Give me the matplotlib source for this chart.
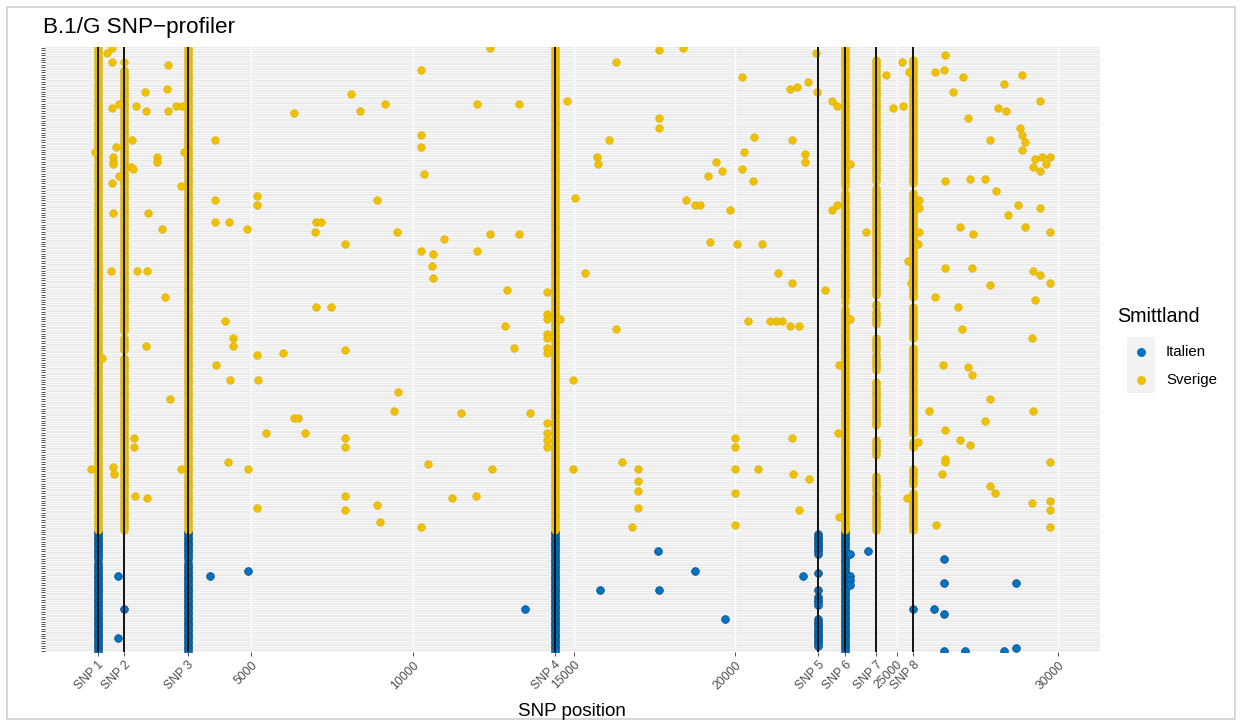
import matplotlib
matplotlib.use('Agg')
import matplotlib.pyplot as plt
from matplotlib.patches import Rectangle
from matplotlib.lines import Line2D

plt.rcParams['font.family'] = ['Liberation Sans', 'DejaVu Sans']

# ---------------- data ----------------
title = 'B.1/G SNP\u2212profiler'
x_title = 'SNP position'
legend_title = 'Smittland'
groups = ['Italien', 'Sverige']
group_colors = ['#0073C2', '#EFC000']

snp_labels = ['SNP 1', 'SNP 2', 'SNP 3', 'SNP 4', 'SNP 5', 'SNP 6', 'SNP 7', 'SNP 8']
snp_pos = [241, 1059, 3037, 14408, 22566, 23403, 24362, 25509]
num_breaks = [5000, 10000, 15000, 20000, 25000, 30000]

n_sverige = 200   # sample rows 0..199 (top)
n_italien = 50    # sample rows 200..249 (bottom)

# rows (first, last) where each SNP column is present, per group
sverige_runs = {
    0: [(0, 199)],
    1: [(6, 6), (9, 117), (120, 125), (128, 199)],
    2: [(0, 199)],
    3: [(0, 199)],
    5: [(0, 57), (60, 103), (105, 105), (108, 199)],
    6: [(5, 55), (58, 102), (106, 107), (109, 114), (120, 125), (127, 133), (138, 156),
        (162, 168), (177, 183), (185, 199)],
    7: [(5, 56), (60, 103), (107, 120), (124, 159), (163, 165), (174, 180), (184, 199)],
}
italien_runs = {
    0: [(200, 211), (213, 249)],
    2: [(200, 211), (213, 249)],
    3: [(200, 249)],
    4: [(201, 209), (217, 217), (224, 224), (227, 230), (236, 247)],
    5: [(200, 249)],
}

# scattered (position, row) points
sverige_pos = [
    540, 690, 690, 2430, 1720, 2400, 910, 690, 1440, 1750, 2430, 2680, 2860, 3890, 820, 170,
    730, 730, 730, 2090, 2090, 1310, 1280, 1350, 2930, 910, 690, 2830, 3890, 730, 1810, 2240,
    3890, 4320,
    380, 40, 660, 1470, 1780, 1750, 1380, 1380, 1410, 1780, 2340, 2490, 2830, 3920, 4200, 4440,
    4440, 4350, 4290, 5190, 5190, 4880, 5190, 5220, 5470, 4910, 5190, 730, 760,
    6330, 5990, 6330, 6460, 6670, 7010, 7170, 6980, 7010, 7480, 7910, 8100, 8380, 9150, 7910,
    7910, 7910, 7910, 7910, 8910, 9530, 9560, 9430, 8910, 9000, 10270, 10270, 10270, 10360,
    10270, 10640, 10610, 10640, 10980, 10490, 10270, 11230, 11510,
    12000, 13310, 12410, 12000, 12410, 13310, 12930, 12870, 13150, 12470, 11970, 13650, 14790,
    15040, 15350, 14980, 14980,
    # around SNP 4
    14170, 14170, 14170, 14570, 14170, 14170, 14170, 14170, 14170, 14170, 14170, 14170,
    16090, 15720, 15750, 16310, 16310, 16500, 16990, 16990, 16990, 16990, 16810, 17640, 17640,
    17640, 18390, 18480, 18760, 18910,
    20220, 20590, 20280, 19410, 19160, 19600, 20220, 19840, 20560, 19220, 20060, 20840, 21330,
    20400, 21270, 21080, 20000, 20000, 20000, 20000, 20000, 20710,
    # 780..960 px band
    22500, 21700, 21910, 22260, 22540, 23000, 23160, 24670, 24890, 25200, 25170, 25390, 26190,
    26470, 26500, 26750, 21760, 22160, 22160, 23560, 23000, 23160, 24050, 26500, 25700, 25700,
    25700, 25670, 25350, 25450, 21760, 22780, 26500, 26190, 21450, 21700, 21980, 23560, 26900,
    26440, 23210, 26000, 21760, 23180, 26500, 25670, 26500, 26500, 26410, 21790, 22290, 25320,
    21980, 23210, 26220,
    # right band
    27070, 27220, 27280, 27340, 27380, 27220, 27340, 27030, 27900, 26970, 28150,
    27750, 27900, 28090, 28310, 28400, 28460, 28890, 28830, 28890, 28990, 28890, 29450, 29300,
    29510, 29760, 29640, 29230, 29450, 29450, 28770, 28990, 29760, 29760, 29450, 29230, 29300,
    29200, 29230, 29760, 29760, 29760, 29760, 29200, 27900, 27900, 28060, 27750, 26970, 27280,
]
sverige_row = [
    2, 0, 6, 7, 18, 17, 23, 25, 24, 26, 26, 24, 24, 38, 41, 43,
    45, 47, 48, 45, 47, 38, 49, 50, 43, 53, 56, 57, 63, 68, 68, 75,
    72, 72,
    128, 174, 92, 92, 92, 123, 161, 165, 185, 186, 103, 145, 174, 131, 113, 120,
    123, 137, 171, 61, 65, 75, 127, 137, 159, 174, 190, 173, 176,
    27, 126, 153, 153, 159, 72, 72, 76, 107, 107, 81, 19, 26, 23, 125,
    161, 165, 185, 191, 63, 76, 142, 150, 189, 196, 9, 36, 41, 52,
    84, 85, 90, 95, 79, 172, 198, 186, 151,
    23, 23, 0, 84, 77, 77, 100, 115, 124, 174, 185, 151, 22,
    62, 93, 137, 174,
    # around SNP 4
    101, 110, 112, 112, 118, 120, 124, 126, 155, 159, 162, 165,
    38, 45, 48, 6, 116, 171, 174, 179, 183, 190, 198, 1, 29,
    33, 0, 63, 65, 65,
    12, 37, 43, 47, 53, 51, 50, 67, 55, 80, 81, 81, 93,
    113, 113, 113, 161, 165, 174, 184, 197, 174,
    # 780..960 px band
    2, 17, 16, 14, 18, 22, 24, 11, 25, 24, 6, 10, 10,
    9, 3, 18, 38, 44, 47, 48, 67, 65, 76, 55, 63, 66,
    76, 81, 88, 97, 97, 100, 91, 103, 113, 115, 115, 112, 107,
    131, 131, 150, 161, 159, 158, 163, 170, 171, 176, 176, 178, 186,
    191, 194, 197,
    # right band
    12, 29, 54, 91, 77, 132, 135, 116, 98, 74, 25,
    54, 38, 59, 15, 26, 69, 11, 33, 36, 39, 42, 22, 46,
    45, 45, 48, 49, 51, 66, 65, 74, 97, 76, 94, 92, 104,
    120, 150, 171, 187, 191, 198, 188, 145, 181, 184, 154, 162, 164,
]
italien_pos = [880, 1059, 880, 3730, 4910, 13490, 15810, 17640, 17610, 18760, 19690, 22100,
               23560, 23560, 23560, 23560, 24120, 25509, 26170, 26470, 26470, 26470, 26470,
               27130, 28310, 28710, 28710]
italien_row = [218, 232, 244, 218, 216, 232, 224, 224, 208, 216, 236, 218,
               209, 218, 220, 222, 208, 232, 232, 234, 211, 221, 249,
               249, 249, 248, 221]

# ---------------- build point sets ----------------
def expand(runs):
    xs, ys = [], []
    for k, spans in runs.items():
        for a, b in spans:
            for r in range(a, b + 1):
                xs.append(snp_pos[k])
                ys.append(r)
    return xs, ys

sx, sy = expand(sverige_runs)
ix, iy = expand(italien_runs)
sx += sverige_pos
sy += sverige_row
ix += italien_pos
iy += italien_row

W, H = 1243, 726
fig = plt.figure(figsize=(W / 100, H / 100), dpi=100)
def fx(px):
    return px / W
def fy(py):
    return 1 - py / H

ax = fig.add_axes([fx(45), fy(652), fx(1100) - fx(45), fy(46.5) - fy(652)])
ax.set_facecolor('#EBEBEB')
n_rows = n_sverige + n_italien
ax.set_ylim(n_rows - 1 + 0.6, -0.6)
ax.set_xlim(-1390, 31300)

# grid
for r in range(n_rows):
    ax.axhline(r, color='white', lw=0.45, zorder=0.5)
all_breaks = sorted(snp_pos + num_breaks)
for b in all_breaks:
    ax.axvline(b, color='white', lw=1.0, zorder=0.6)

pt = 31
edge_s = '#D4A800'
edge_i = '#084A85'
ax.scatter(ix, iy, s=pt, color=group_colors[0], edgecolor=edge_i, linewidths=0.5, zorder=2)
ax.scatter(sx, sy, s=pt, color=group_colors[1], edgecolor=edge_s, linewidths=0.3, zorder=2)

for p in snp_pos:
    ax.axvline(p, color='#111111', lw=1.4, zorder=3)

# ticks
tick_pairs = sorted(list(zip(snp_pos, snp_labels)) + [(b, str(b)) for b in num_breaks])
ax.set_xticks([t[0] for t in tick_pairs])
ax.set_xticklabels([t[1] for t in tick_pairs], rotation=45, ha='right', va='top',
                   rotation_mode='anchor', fontsize=8.8, color='#4D4D4D')
ax.set_yticks(range(n_rows))
ax.set_yticklabels([''] * n_rows)
ax.tick_params(axis='both', length=3.0, width=0.6, color='#333333')
ax.tick_params(axis='x', pad=2)
for s in ax.spines.values():
    s.set_visible(False)

# texts
fig.text(fx(43), fy(27), title, fontsize=16.2, ha='left', va='center')
fig.text(fx(572), fy(711), x_title, fontsize=13.6, ha='center', va='center')

# legend (manual, ggplot-like)
fig.text(fx(1117), fy(317), legend_title, fontsize=14.2, ha='left', va='center')
fig.patches.append(Rectangle((fx(1127), fy(393)), fx(1155) - fx(1127), fy(337) - fy(393),
                             transform=fig.transFigure, facecolor='#F2F2F2', edgecolor='none'))
for i, (g, c) in enumerate(zip(groups, group_colors)):
    yy = 352 + 28 * i
    fig.lines.append(Line2D([fx(1141)], [fy(yy)], marker='o', ms=5.4, color=c,
                            linestyle='none', transform=fig.transFigure))
    fig.text(fx(1166), fy(yy), g, fontsize=10.8, ha='left', va='center')

# outer frame
fig.patches.append(Rectangle((fx(7), fy(719)), fx(1235) - fx(7), fy(7) - fy(719),
                             transform=fig.transFigure, fill=False, edgecolor='#D0D0D0', lw=1.2))

fig.savefig('out.png', dpi=100)
